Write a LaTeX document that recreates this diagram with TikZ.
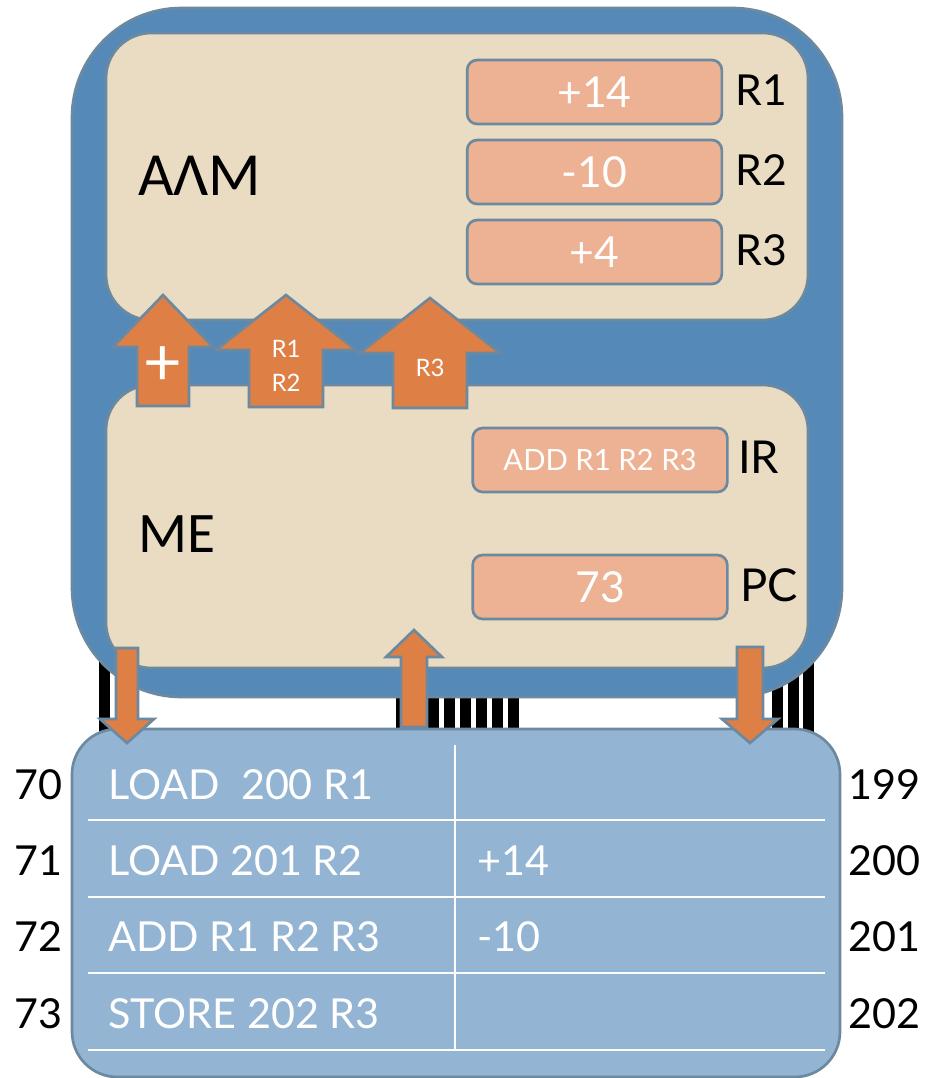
\documentclass[tikz,border=0pt]{standalone}
\usepackage{fontspec}
\setmainfont{Lato}
\newfontfamily\grfont{Carlito}
\definecolor{cpublue}{RGB}{85,138,184}
\definecolor{edge}{RGB}{108,137,160}
\definecolor{beige}{RGB}{233,220,195}
\definecolor{salmon}{RGB}{236,178,147}
\definecolor{orng}{RGB}{222,127,69}
\definecolor{memblue}{RGB}{148,180,211}

\begin{document}
\begin{tikzpicture}[x=0.75pt,y=-0.75pt]
  \tikzstyle{box}=[draw=edge,line width=2pt]
  \tikzstyle{reg}=[box,fill=salmon,rounded corners=7.5pt,minimum width=191pt,minimum height=48pt,text=white,font=\fontsize{32}{32}\selectfont]
  \tikzstyle{lbl}=[anchor=west,inner sep=0pt,font=\fontsize{32}{32}\selectfont]
  \tikzstyle{memtxt}=[anchor=west,inner sep=0pt,text=white,font=\fontsize{31}{31}\selectfont]
  \tikzstyle{addr}=[inner sep=0pt,font=\fontsize{31}{31}\selectfont]
  \tikzstyle{barrow}=[box,fill=orng,line join=miter]
  \tikzstyle{arrtxt}=[text=white,inner sep=0pt,align=center,font=\fontsize{18}{26}\selectfont]
  \useasboundingbox (0,0) rectangle (926,1078);
  \fill[white] (0,0) rectangle (926,1078);
  \foreach \x in {99,772,788,803}
    \fill (\x,630) rectangle (\x+11,745);
  \foreach \x in {396,412,...,508}
    \fill (\x,680) rectangle (\x+11,745);
  \draw[box,fill=cpublue,rounded corners=82pt] (72,8) rectangle (842,697);
  \draw[box,fill=beige,rounded corners=34pt] (106,33) rectangle (808,320);
  \draw[box,fill=beige,rounded corners=34pt] (106,385) rectangle (808,668);
  \node[inner sep=0pt,anchor=west,font=\grfont\fontsize{46}{46}\selectfont] (alm) at (138,176) {ΑΛΜ};
  \node[inner sep=0pt,anchor=west,font=\grfont\fontsize{43}{43}\selectfont] (me) at (138,534) {ΜΕ};
  \node[reg] (r1) at (594.5,92) {+14};
  \node[reg] (r2) at (594.5,172) {-10};
  \node[reg] (r3) at (594.5,252) {+4};
  \node[reg,font=\fontsize{22}{22}\selectfont] (ir) at (600,460) {ADD R1 R2 R3};
  \node[reg] (pc) at (600,587) {73};
  \node[lbl] (n1) at (735,90) {R1};
  \node[lbl] (n2) at (735,170) {R2};
  \node[lbl] (n3) at (735,250) {R3};
  \node[lbl,font=\fontsize{34}{34}\selectfont] (nir) at (738,457) {IR};
  \node[lbl,font=\fontsize{34}{34}\selectfont] (npc) at (740,585) {PC};
  \foreach \cx/\yb/\yt/\sw/\hw/\yh in {163/406/295/26/50/347,286/407/295/37/70/350,430/408/298/37/70/353}
    \draw[barrow] (\cx-\sw,\yb) -- (\cx-\sw,\yh) -- (\cx-\hw,\yh) -- (\cx,\yt)
      -- (\cx+\hw,\yh) -- (\cx+\sw,\yh) -- (\cx+\sw,\yb) -- cycle;
  \node[arrtxt,font=\fontsize{50}{50}\selectfont] (plus) at (163,366) {+};
  \node[arrtxt] (r12) at (286,366) {R1\\R2};
  \node[arrtxt] (r3a) at (430,368) {R3};
  \draw[box,fill=memblue,rounded corners=34pt] (72,729) rectangle (840,1077);
  \draw[white,line width=2pt] (455,745) -- (455,1050);
  \foreach \y in {820,897,973}
    \draw[white,line width=2.2pt] (88,\y) -- (825,\y);
  \draw[white,line width=0.8pt] (88,1050) -- (825,1050);
  \foreach \i/\y/\ins/\a/\b in {0/785/LOAD\ \ 200 R1/70/199,1/861/LOAD 201 R2/71/200,2/937/ADD R1 R2 R3/72/201,3/1014/STORE 202 R3/73/202}{
    \node[memtxt] (ins\i) at (108,\y) {\ins};
    \node[addr,anchor=east] (la\i) at (63,\y) {\a};
    \node[addr,anchor=west] (ra\i) at (848,\y) {\b};
  }
  \node[memtxt] (d1) at (477,861) {+14};
  \node[memtxt] (d2) at (477,937) {-10};
  \foreach \cx/\yb/\yt/\sw/\hw/\yh in {127/648/743/11/27/719,414/727/630/13/28/657,750/647/743/13/28/719}
    \draw[barrow] (\cx-\sw,\yb) -- (\cx-\sw,\yh) -- (\cx-\hw,\yh) -- (\cx,\yt)
      -- (\cx+\hw,\yh) -- (\cx+\sw,\yh) -- (\cx+\sw,\yb) -- cycle;
\end{tikzpicture}
\end{document}
